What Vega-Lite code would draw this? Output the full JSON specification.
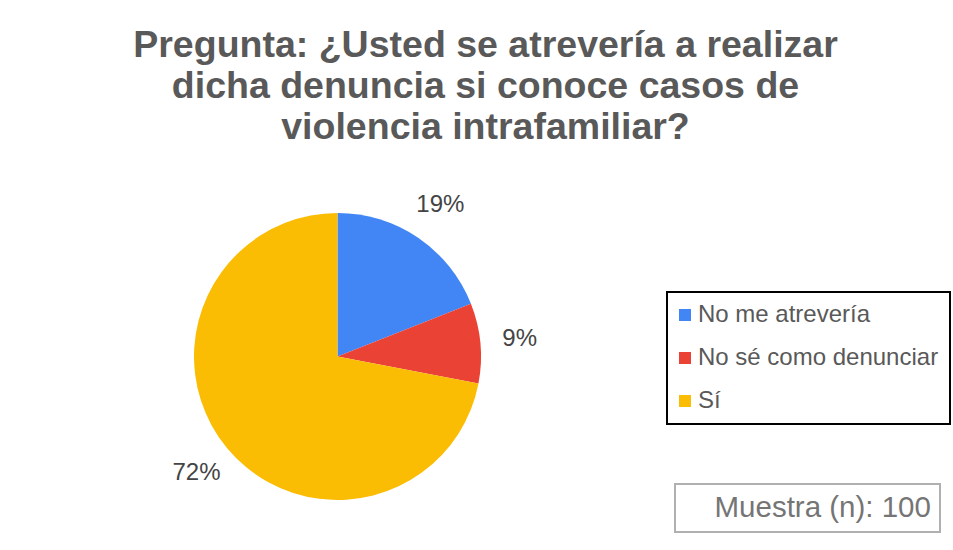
{
  "$schema": "https://vega.github.io/schema/vega-lite/v6.json",
  "width": 287,
  "height": 287,
  "autosize": "none",
  "padding": {"left": 194, "top": 213, "right": 472, "bottom": 50},
  "background": "white",
  "title": {
    "text": ["Pregunta: ¿Usted se atrevería a realizar", "dicha denuncia si conoce casos de", "violencia intrafamiliar?"],
    "anchor": "middle",
    "dx": 148,
    "dy": 1,
    "fontSize": 37.5,
    "fontWeight": "bold",
    "color": "#595959",
    "font": "Liberation Sans",
    "lineHeight": 41,
    "offset": 48
  },
  "config": {
    "view": {"stroke": null},
    "font": "Liberation Sans",
    "legend": {"strokeWidth": 2}
  },
  "layer": [
    {
      "data": {"values": [
        {"respuesta": "No me atrevería", "valor": 19},
        {"respuesta": "No sé como denunciar", "valor": 9},
        {"respuesta": "Sí", "valor": 72}
      ]},
      "transform": [{"calculate": "datum.valor + '%'", "as": "etiqueta"}],
      "encoding": {
        "theta": {"field": "valor", "type": "quantitative", "stack": true}
      },
      "layer": [
        {"mark": {"type": "arc", "outerRadius": 143.5},
         "encoding": {
          "color": {
            "field": "respuesta",
            "type": "nominal",
            "scale": {"domain": ["No me atrevería", "No sé como denunciar", "Sí"], "range": ["#4285F4", "#EA4335", "#FBBC04"]},
            "legend": {
              "orient": "none",
              "legendX": 473,
              "legendY": 79,
              "title": null,
              "symbolType": "square",
              "symbolSize": 144,
              "symbolStrokeWidth": 0,
              "symbolOffset": -5,
              "labelFontSize": 24,
              "labelColor": "#595959",
              "labelOffset": 1,
              "rowPadding": 19,
              "padding": 11,
              "strokeColor": "#000000",
              "labelLimit": 400
            }
          }
        }},
        {"mark": {"type": "text", "radius": 183, "fontSize": 24, "color": "#444444"},
         "encoding": {"text": {"field": "etiqueta", "type": "nominal"}, "order": {"field": "respuesta"}}}
      ]
    },
    {
      "data": {"values": [{"nota": "Muestra (n): 100"}]},
      "mark": {"type": "point", "opacity": 0, "size": 0},
      "encoding": {
        "shape": {
          "field": "nota",
          "type": "nominal",
          "legend": {
            "orient": "none",
            "legendX": 481,
            "legendY": 271,
            "title": null,
            "symbolOpacity": 0,
            "symbolSize": 0,
            "labelFontSize": 29.5,
            "labelColor": "#757575",
            "labelOffset": 1,
            "labelLimit": 400,
            "padding": 9,
            "strokeColor": "#b0b0b0"
          }
        }
      }
    }
  ]
}
